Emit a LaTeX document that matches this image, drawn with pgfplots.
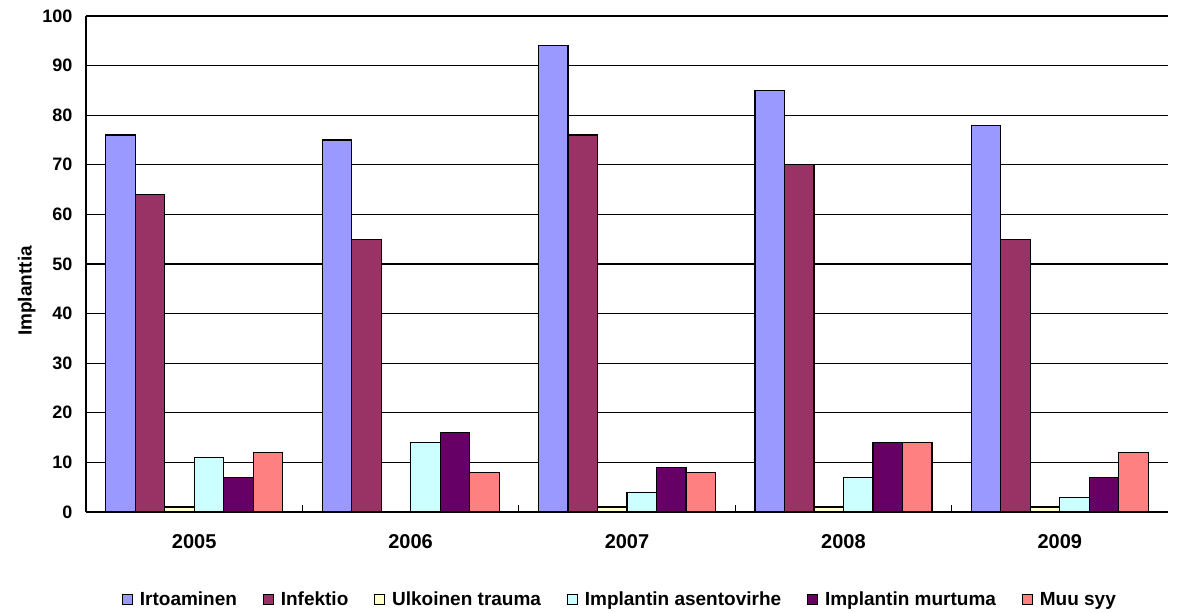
\documentclass[border=0pt]{standalone}
\usepackage{fontspec}
\setmainfont{Liberation Sans}
\usepackage{pgfplots}
\pgfplotsset{compat=1.18}
\definecolor{cA}{HTML}{9999FF}
\definecolor{cB}{HTML}{993366}
\definecolor{cC}{HTML}{FFFFCC}
\definecolor{cD}{HTML}{CCFFFF}
\definecolor{cE}{HTML}{660066}
\definecolor{cF}{HTML}{FF8080}
\begin{document}
\begin{tikzpicture}[x=1pt,y=1pt]
\useasboundingbox (0,0) rectangle (1179,613);
\begin{axis}[
  at={(86pt,101pt)}, anchor=south west,
  scale only axis, width=1082pt, height=496pt,
  /pgf/number format/assume math mode=true,
  ybar=0pt, bar width=29.5pt,
  xmin=0.5, xmax=5.5, ymin=0, ymax=100,
  xtick={1,2,3,4,5},
  xticklabels={2005,2006,2007,2008,2009},
  x tick label style={font=\fontsize{20}{20}\selectfont\bfseries, yshift=-15pt},
  major x tick style={draw=none},
  minor xtick={1.5,2.5,3.5,4.5},
  minor x tick style={black, line width=1pt, yshift=7pt},
  minor tick length=7pt,
  ytick={0,10,...,100},
  y tick label style={font=\fontsize{18}{18}\selectfont\bfseries, xshift=-10pt},
  ymajorgrids, major grid style={black, line width=1.2pt},
  major y tick style={black, line width=1.2pt},
  axis x line*=bottom, axis y line*=left,
  axis line style={black, line width=2pt, -},
  ylabel={Implanttia},
  ylabel style={font=\fontsize{19}{19}\selectfont\bfseries, at={(ticklabel cs:0.5)}, anchor=south, xshift=-27pt},
  every axis plot/.append style={draw=black, line width=1.2pt},
  legend columns=6,
  legend style={draw=none, at={(0.4935,-0.177)}, anchor=center,
    font=\fontsize{19}{19}\selectfont\bfseries,
    /tikz/every odd column/.append style={column sep=5pt},
    /tikz/every even column/.append style={column sep=24pt}},
  legend image code/.code={\draw[#1, draw=black, line width=0.8pt] (0pt,-5pt) rectangle (10pt,5pt);},
]
\addplot[fill=cA] coordinates {(1,76) (2,75) (3,94) (4,85) (5,78)};
\addplot[fill=cB] coordinates {(1,64) (2,55) (3,76) (4,70) (5,55)};
\addplot[fill=cC] coordinates {(1,1) (2,0) (3,1) (4,1) (5,1)};
\addplot[fill=cD] coordinates {(1,11) (2,14) (3,4) (4,7) (5,3)};
\addplot[fill=cE] coordinates {(1,7) (2,16) (3,9) (4,14) (5,7)};
\addplot[fill=cF] coordinates {(1,12) (2,8) (3,8) (4,14) (5,12)};
\legend{Irtoaminen, Infektio, Ulkoinen trauma, Implantin asentovirhe, Implantin murtuma, Muu syy}
\end{axis}
\end{tikzpicture}
\end{document}
